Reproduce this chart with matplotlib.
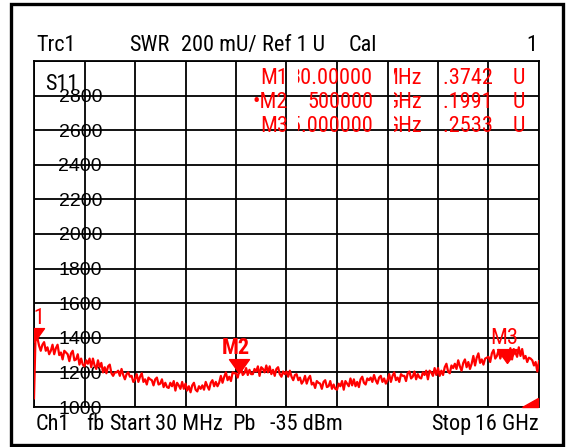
import numpy as np
import matplotlib
matplotlib.use('Agg')
import matplotlib.pyplot as plt
from matplotlib import font_manager as fm
from matplotlib.patches import Rectangle, Polygon
from matplotlib.transforms import Bbox, TransformedBbox

# sweep: 30 MHz .. 16 GHz, SWR in mU
freq_start, freq_stop = 0.03, 16.0
swr = [1050, 1445, 1400, 1355, 1325, 1360, 1375, 1325, 1345, 1305,
       1325, 1360, 1305, 1340, 1360, 1300, 1315, 1275, 1325, 1315,
       1305, 1265, 1310, 1325, 1270, 1275, 1305, 1245, 1280, 1245,
       1235, 1270, 1250, 1280, 1230, 1280, 1240, 1220, 1270, 1230,
       1255, 1200, 1230, 1195, 1235, 1245, 1195, 1180, 1200, 1200,
       1210, 1180, 1220, 1185, 1160, 1190, 1200, 1175, 1180, 1145,
       1160, 1190, 1145, 1175, 1195, 1145, 1160, 1130, 1170, 1160,
       1155, 1125, 1160, 1170, 1130, 1135, 1160, 1115, 1140, 1115,
       1110, 1140, 1120, 1150, 1095, 1140, 1125, 1105, 1145, 1105,
       1135, 1095, 1120, 1085, 1125, 1140, 1100, 1090, 1120, 1105,
       1125, 1100, 1145, 1120, 1100, 1140, 1155, 1120, 1145, 1120,
       1140, 1180, 1140, 1175, 1200, 1155, 1175, 1150, 1200, 1195,
       1195, 1170, 1210, 1225, 1185, 1195, 1225, 1185, 1215, 1190,
       1190, 1220, 1205, 1235, 1180, 1230, 1220, 1200, 1240, 1200,
       1235, 1190, 1215, 1180, 1220, 1230, 1190, 1175, 1205, 1190,
       1205, 1175, 1210, 1175, 1155, 1185, 1190, 1155, 1170, 1135,
       1150, 1180, 1135, 1165, 1180, 1130, 1140, 1110, 1150, 1140,
       1135, 1105, 1145, 1155, 1115, 1120, 1150, 1105, 1130, 1105,
       1100, 1135, 1120, 1150, 1100, 1150, 1135, 1120, 1165, 1125,
       1160, 1120, 1145, 1115, 1160, 1175, 1140, 1130, 1165, 1155,
       1170, 1145, 1185, 1155, 1135, 1170, 1180, 1145, 1165, 1135,
       1155, 1190, 1145, 1180, 1200, 1155, 1170, 1145, 1190, 1180,
       1180, 1150, 1195, 1205, 1165, 1175, 1205, 1160, 1190, 1170,
       1165, 1200, 1185, 1210, 1160, 1210, 1200, 1180, 1225, 1185,
       1225, 1180, 1210, 1185, 1230, 1250, 1205, 1195, 1240, 1225,
       1250, 1220, 1270, 1235, 1210, 1255, 1275, 1230, 1260, 1220,
       1250, 1295, 1240, 1285, 1310, 1255, 1275, 1245, 1280, 1285,
       1290, 1260, 1310, 1330, 1280, 1295, 1330, 1280, 1315, 1290,
       1285, 1325, 1305, 1340, 1275, 1335, 1315, 1290, 1345, 1295,
       1335, 1280, 1295, 1260, 1285, 1280, 1270, 1240, 1260, 1205,
       1265]
freq = np.linspace(freq_start, freq_stop, len(swr))

marker_names = ['M1', 'M2', 'M3']
marker_freq = [0.03, 6.5, 15.0]
marker_swr = [1374.2, 1199.1, 1253.3]

readout_names = ['M1', '\u2022M2', 'M3']
readout_freq = ['30.00000', '500000', '15.000000']
readout_unit = ['MHz', 'GHz', 'GHz']
readout_val = ['1.3742', '1.1991', '1.2533']

ytick_vals = [1000, 1200, 1400, 1600, 1800, 2000, 2200, 2400, 2600, 2800, 3000]
ytick_text = ['1000', '1200', '1400', '1600', '1800', '2000', '2200', '2400', '2600', '2800', '']

W, H = 567, 447
RED = '#ff0000'

# the analyzer uses a narrow sans; take one if it is installed
names = {f.name for f in fm.fontManager.ttflist}
narrow = None
for cand in ['Liberation Sans Narrow', 'Arial Narrow', 'Roboto Condensed',
             'Noto Sans Condensed', 'Open Sans Condensed', 'DejaVu Sans Condensed']:
    if cand in names:
        narrow = cand
        break
if narrow:
    FAM, FS, STRETCH = [narrow, 'DejaVu Sans'], 16, 'normal'
else:
    cond = [f.name for f in fm.fontManager.ttflist
            if f.stretch == 'condensed' and f.style == 'normal'
            and f.name in ('Roboto', 'Noto Sans', 'Open Sans', 'DejaVu Sans')]
    if cond:
        FAM, FS, STRETCH = [cond[0], 'DejaVu Sans'], 15.5, 'condensed'
    else:
        FAM, FS, STRETCH = ['Liberation Sans', 'DejaVu Sans'], 13.5, 'normal'

fig = plt.figure(figsize=(W / 100, H / 100), dpi=100)
fig.patch.set_facecolor('white')


def px(x, y):
    # pixel -> figure fraction
    return x / W, 1 - y / H


# outer frame
fig.patches.append(Rectangle(px(11, 445), (563 - 11) / W, (445 - 3.5) / H,
                             transform=fig.transFigure, fill=False,
                             lw=2.4, ec='black'))

ax = fig.add_axes([34 / W, 1 - 407 / H, 505 / W, 346 / H])
ax.set_xlim(freq_start, freq_stop)
ax.set_ylim(1000, 3000)
ax.set_xticks(np.linspace(freq_start, freq_stop, 11))
ax.set_xticklabels([])
ax.set_yticks(ytick_vals)
ax.set_yticklabels(ytick_text, family=['Liberation Sans', 'DejaVu Sans'], fontsize=14)
ax.tick_params(length=0)
ax.tick_params(axis='y', pad=-49)
ax.grid(True, color='black', lw=1.3)
ax.set_axisbelow(True)
for s in ax.spines.values():
    s.set_linewidth(1.3)
ax.spines['bottom'].set_linestyle((0, (1, 1)))

ax.plot(freq, swr, color=RED, lw=1.6, zorder=3)

# marker triangles, apex on the trace
tri = [(0, 0), (-0.72, 1), (0.72, 1), (0, 0)]
ax.plot(marker_freq, marker_swr, ls='none', marker=tri, ms=20,
        color=RED, mec=RED, zorder=4)
for name, f, v in zip(marker_names, marker_freq, marker_swr):
    ax.annotate(name, (f, v), xytext=(-2, 13.5), textcoords='offset points',
                ha='center', va='baseline', color=RED, fontsize=FS,
                family=FAM, fontstretch=STRETCH,
                fontweight='bold' if name == 'M2' else 'normal',
                annotation_clip=False, clip_on=True, zorder=5)


def label(x, y, s, ha='left', color='black'):
    return fig.text(*px(x, y), s, fontsize=FS, family=FAM, fontstretch=STRETCH,
                    va='baseline', ha=ha, color=color)


# header line
for s, x in [('Trc1', 36), ('SWR', 129), ('200 mU/', 181), ('Ref 1 U', 262), ('Cal', 349)]:
    label(x, 51, s)
label(537, 51, '1', ha='right')

# footer line
for s, x in [('Ch1', 36), ('fb', 86), ('Start', 109), ('30 MHz', 155), ('Pb', 232),
             ('-35 dBm', 270), ('Stop', 431)]:
    label(x, 430, s)
label(539, 430, '16 GHz', ha='right')

label(45, 90, 'S11')


def readout(x_right, y, s, x_clip=None):
    t = label(x_right, y, s, ha='right', color=RED)
    if x_clip is not None:
        t.set_clip_box(TransformedBbox(Bbox.from_extents(x_clip / W, 0, 1, 1),
                                       fig.transFigure))
        t.set_clip_on(True)


for i in range(3):
    y = 84 + 24 * i
    readout(288, y, readout_names[i])
    readout(373, y, readout_freq[i], 298)
    readout(422, y, readout_unit[i], 394)
    readout(493, y, readout_val[i], 441)
    readout(525, y, 'U')

# stop-edge wedge in the lower right corner
fig.patches.append(Polygon([px(522, 407), px(538, 407), px(538, 398)],
                           closed=True, transform=fig.transFigure,
                           fc=RED, ec=RED))

fig.savefig('out.png', dpi=100)
